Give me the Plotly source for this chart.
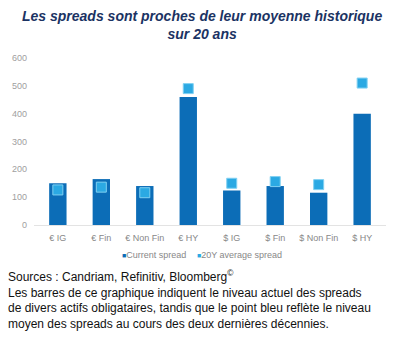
import plotly.graph_objects as go

categories = ["€ IG", "€ Fin", "€ Non Fin", "€ HY", "$ IG", "$ Fin", "$ Non Fin", "$ HY"]
current_spread = [150, 165, 140, 460, 124, 140, 116, 400]
avg_20y_spread = [126, 136, 116, 490, 150, 156, 145, 510]
y_ticks = [0, 100, 200, 300, 400, 500, 600]

W, H = 417, 343
ml, mr, mt, mb = 30, 31, 58, 118
pw = W - ml - mr
ph = H - mt - mb

BAR_COLOR = "#0c6db7"
DOT_COLOR = "#2ba9e3"

fig = go.Figure()
fig.add_trace(go.Bar(
    x=categories, y=current_spread, name="Current spread",
    marker=dict(color=BAR_COLOR, line=dict(width=0)), showlegend=False,
))
fig.add_trace(go.Scatter(
    x=categories, y=avg_20y_spread, name="20Y average spread", mode="markers",
    marker=dict(symbol="square", size=10, color=DOT_COLOR, line=dict(color="#7fd0f2", width=1)),
    showlegend=False,
))

def px_x(x):
    return (x - ml) / pw

def px_y(y):
    return (H - mb - y) / ph

legend_font = dict(size=9, color="#888888", family="Liberation Sans, Arial, sans-serif")

fig.update_layout(
    width=W, height=H,
    margin=dict(l=ml, r=mr, t=mt, b=mb, pad=0),
    paper_bgcolor="white", plot_bgcolor="white",
    font=dict(family="Liberation Sans, Arial, sans-serif", color="#888888", size=9),
    bargap=0.6,
    xaxis=dict(showgrid=False, showline=True, linecolor="#e3e3e3", linewidth=1,
               ticks="", tickfont=dict(size=9, color="#888888"), fixedrange=True,
               ticklabelstandoff=4),
    yaxis=dict(range=[0, 600], tickvals=y_ticks, showgrid=False, zeroline=False,
               showline=False, ticks="", tickfont=dict(size=9, color="#a0a0a0"),
               ticklabelstandoff=6),
    annotations=[
        dict(text="<b><i>Les spreads sont proches de leur moyenne historique<br>sur 20 ans</i></b>",
             xref="paper", yref="paper", x=px_x(200), y=px_y(6), xanchor="center", yanchor="top",
             showarrow=False, align="center",
             font=dict(size=14, color="#1b3363", family="Liberation Sans, Arial, sans-serif")),
        dict(text=f"<span style='color:{BAR_COLOR};font-size:7px'>■</span>Current spread",
             xref="paper", yref="paper", x=px_x(117), y=px_y(255), xanchor="left", yanchor="middle",
             showarrow=False, font=legend_font),
        dict(text=f"<span style='color:{DOT_COLOR};font-size:7px'>■</span>20Y average spread",
             xref="paper", yref="paper", x=px_x(193), y=px_y(255), xanchor="left", yanchor="middle",
             showarrow=False, font=legend_font),
        dict(text="Sources : Candriam, Refinitiv, Bloomberg<sup>©</sup><br>"
                  "Les barres de ce graphique indiquent le niveau actuel des spreads<br>"
                  "de divers actifs obligataires, tandis que le point bleu reflète le niveau<br>"
                  "moyen des spreads au cours des deux dernières décennies.",
             xref="paper", yref="paper", x=px_x(2), y=px_y(266), xanchor="left", yanchor="top",
             showarrow=False, align="left",
             font=dict(size=12, color="#111111", family="Liberation Sans, Arial, sans-serif")),
    ],
)

fig.write_html("out.html")
